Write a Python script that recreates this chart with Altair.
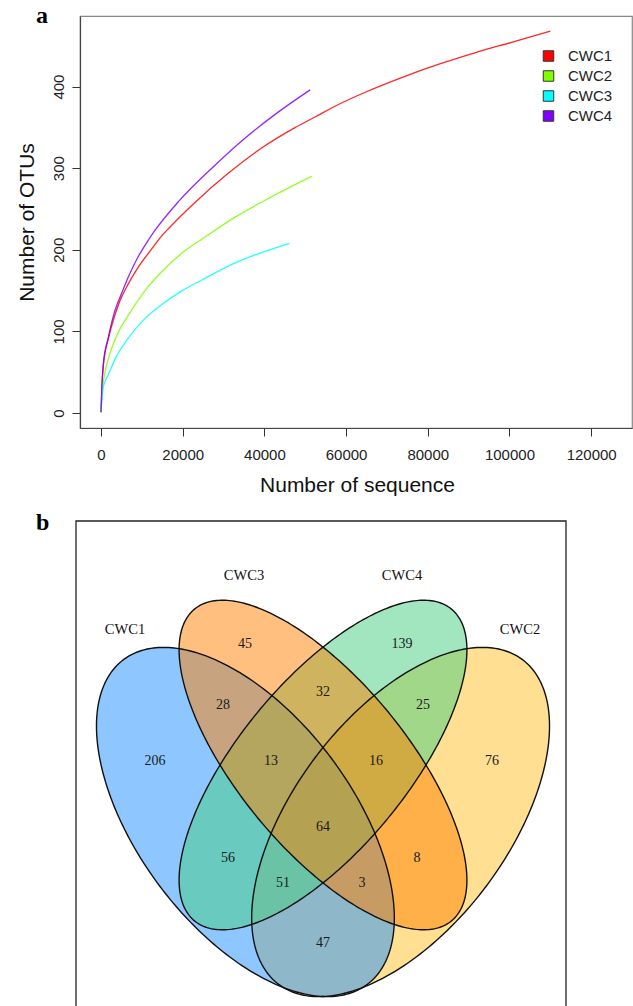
import numpy as np
import pandas as pd
import altair as alt

# ---------------- panel a : rarefaction curves ----------------
series_names = ["CWC1", "CWC2", "CWC3", "CWC4"]
series_colors = ["#FF0000", "#80FF00", "#00FFFF", "#8000FF"]

seq_cwc1 = [0, 200, 570, 1800, 3400, 5000, 5900, 9150, 12400, 14500, 16900, 23000, 31200,
            39400, 47600, 52500, 56900, 65100, 74100, 83100, 91300, 100300, 110000]
otu_cwc1 = [1, 30, 58, 91, 120, 142, 151, 179, 201, 215, 228, 258, 294,
            325, 350, 363, 375, 394, 412, 428, 441, 454, 468]

seq_cwc2 = [0, 200, 980, 2000, 3430, 6700, 10780, 14870, 20590, 24680, 32840, 41000, 51600]
otu_cwc2 = [1, 22, 50, 70, 90, 120, 150, 173, 199, 213, 240, 263, 290]

seq_cwc3 = [0, 200, 570, 1800, 3430, 6700, 10600, 14870, 19900, 24680, 32430, 46150]
otu_cwc3 = [1, 14, 32, 47, 66, 92, 115, 133, 150, 163, 183, 208]

seq_cwc4 = [0, 170, 570, 1800, 3430, 5070, 6700, 9150, 11600, 13240, 18950, 27130, 35300, 43450, 51200]
otu_cwc4 = [1, 28, 61, 93, 126, 147, 167, 192, 212, 224, 259, 300, 337, 369, 396]

x_ticks = [0, 20000, 40000, 60000, 80000, 100000, 120000]
y_ticks = [0, 100, 200, 300, 400]

# ---------------- panel b : Venn diagram ----------------
venn_draw_order = ["CWC2", "CWC1", "CWC4", "CWC3"]
venn_fill = {"CWC1": "#1E90FF", "CWC2": "#FFC125", "CWC3": "#FF7F00", "CWC4": "#43CD80"}
region_names = ["CWC3", "CWC4", "CWC3&CWC4", "CWC1&CWC3", "CWC4&CWC2", "CWC1",
                "CWC1&CWC3&CWC4", "CWC3&CWC4&CWC2", "CWC2", "all", "CWC1&CWC4",
                "CWC3&CWC2", "CWC1&CWC4&CWC2", "CWC1&CWC3&CWC2", "CWC1&CWC2"]
region_counts = [45, 139, 32, 28, 25, 206, 13, 16, 76, 64, 56, 8, 51, 3, 47]

# layout (reference pixel frame of the figure)
region_pos_x = [245, 402, 323, 223, 423, 155, 271, 376, 492, 323, 228, 417, 283, 362, 323]
region_pos_y = [644, 644, 692, 705, 705, 761, 761, 761, 761, 827, 858, 858, 883, 883, 943]
set_label_pos = {"CWC3": (244, 576), "CWC4": (402, 576), "CWC1": (125, 630), "CWC2": (520, 630)}
# ellipse shapes: centre x, centre y, semi-major, semi-minor, tilt (deg, screen)
ellipse_geom = {
    "CWC1": (245.4, 822.0, 203, 107, 53.1),
    "CWC2": (400.6, 822.0, 203, 107, 126.9),
    "CWC3": (323.0, 765.0, 202, 84, 50.5),
    "CWC4": (323.0, 765.0, 202, 84, 129.5),
}

W, H = 552, 412
OX, OY = 80, 16
SERIF = "Liberation Serif"
SANS = "Liberation Sans"

rows = []
for name, xs, ys in zip(series_names, [seq_cwc1, seq_cwc2, seq_cwc3, seq_cwc4],
                        [otu_cwc1, otu_cwc2, otu_cwc3, otu_cwc4]):
    for xv, yv in zip(xs, ys):
        rows.append({"series": name, "seq": xv, "otus": yv})
curves = pd.DataFrame(rows)

color_scale = alt.Scale(domain=series_names, range=series_colors)

lines = alt.Chart(curves).mark_line(strokeWidth=1.3, opacity=0.85, interpolate="monotone").encode(
    x=alt.X("seq:Q", scale=alt.Scale(domain=[-5150, 130000], nice=False, zero=False),
            axis=alt.Axis(values=x_ticks, format="d", title="Number of sequence", grid=False,
                          labelFont=SANS, labelFontSize=15, labelColor="#222", labelPadding=11,
                          labelBaseline="top", labelFlush=False, labelOverlap=False,
                          tickSize=8, tickColor="#333", domainColor="#444", domainWidth=1.2,
                          titleFont=SANS, titleFontSize=21, titleFontWeight="normal", titleColor="#111",
                          titleX=277, titleY=63, titleBaseline="alphabetic", titleAlign="center")),
    y=alt.Y("otus:Q", scale=alt.Scale(domain=[-18.4, 486.5], nice=False, zero=False),
            axis=alt.Axis(values=y_ticks, title="Number of OTUs", grid=False,
                          labelFont=SANS, labelFontSize=15, labelColor="#222", labelPadding=9,
                          labelAngle=270, labelAlign="center", labelBaseline="alphabetic",
                          labelFlush=False, labelOverlap=False,
                          tickSize=8, tickColor="#333", domainColor="#444", domainWidth=1.2,
                          titleFont=SANS, titleFontSize=21, titleFontWeight="normal", titleColor="#111",
                          titleAngle=270, titleX=-47, titleY=206, titleBaseline="alphabetic",
                          titleAlign="center")),
    color=alt.Color("series:N", scale=color_scale, legend=None),
)

leg_df = pd.DataFrame({"series": series_names})
leg_y = alt.Y("series:N", scale=alt.Scale(domain=series_names, range=[40, 100], padding=0), axis=None)
leg_sq = alt.Chart(leg_df).mark_square(size=110, filled=True, opacity=1, stroke="#333", strokeWidth=1).encode(
    x=alt.value(468.5), y=leg_y, fill=alt.Fill("series:N", scale=color_scale, legend=None))
leg_tx = alt.Chart(leg_df).mark_text(align="left", baseline="middle", font=SANS, fontSize=15,
                                     color="#222").encode(x=alt.value(488), y=leg_y, text="series:N")

label_a = alt.Chart(pd.DataFrame({"t": ["a"]})).mark_text(
    align="left", baseline="alphabetic", font=SERIF, fontWeight="bold", fontSize=24, color="#000"
).encode(x=alt.value(-44), y=alt.value(7), text="t:N")

# ---------------- Venn layers ----------------
vx_scale = alt.Scale(domain=[0, 633], range=[-OX, 633 - OX], nice=False, zero=False)
vy_scale = alt.Scale(domain=[0, 1006], range=[-OY, 1006 - OY], nice=False, zero=False)


def ellipse_fill(cx, cy, a, b, ang, n=240):
    c, s = np.cos(np.radians(ang)), np.sin(np.radians(ang))
    half_w = np.sqrt((a * c) ** 2 + (b * s) ** 2)
    k = np.linspace(0, np.pi, n)
    xs = cx - half_w * np.cos(k)
    dx = xs - cx
    P = s ** 2 / a ** 2 + c ** 2 / b ** 2
    Q = 2 * dx * c * s * (1 / a ** 2 - 1 / b ** 2)
    R = dx ** 2 * (c ** 2 / a ** 2 + s ** 2 / b ** 2) - 1
    disc = np.sqrt(np.clip(Q ** 2 - 4 * P * R, 0, None))
    return pd.DataFrame({"px": xs, "py": cy + (-Q - disc) / (2 * P), "py2": cy + (-Q + disc) / (2 * P)})


def ellipse_outline(cx, cy, a, b, ang, n=300):
    c, s = np.cos(np.radians(ang)), np.sin(np.radians(ang))
    t = np.linspace(0, 2 * np.pi, n + 1)
    return pd.DataFrame({
        "t": np.arange(n + 1),
        "px": cx + a * np.cos(t) * c - b * np.sin(t) * s,
        "py": cy + a * np.cos(t) * s + b * np.sin(t) * c,
    })


box = alt.Chart(pd.DataFrame({"k": [0]})).mark_rect(
    fill="transparent", stroke="#222", strokeWidth=1.3
).encode(x=alt.value(76 - OX), x2=alt.value(566 - OX), y=alt.value(521 - OY), y2=alt.value(1012 - OY))

fills = []
for name in venn_draw_order:
    fills.append(alt.Chart(ellipse_fill(*ellipse_geom[name])).mark_area(
        color=venn_fill[name], opacity=0.5).encode(
        x=alt.X("px:Q", scale=vx_scale, axis=None),
        y=alt.Y("py:Q", scale=vy_scale, axis=None),
        y2="py2:Q"))

outlines = []
for name in venn_draw_order:
    outlines.append(alt.Chart(ellipse_outline(*ellipse_geom[name])).mark_line(
        color="#111", strokeWidth=1.4).encode(
        x=alt.X("px:Q", scale=vx_scale, axis=None),
        y=alt.Y("py:Q", scale=vy_scale, axis=None),
        order="t:Q"))

reg_df = pd.DataFrame({"region": region_names, "count": region_counts,
                       "px": region_pos_x, "py": region_pos_y})
reg_text = alt.Chart(reg_df).mark_text(font=SERIF, fontSize=14, color="#1a1a1a",
                                       baseline="middle", align="center").encode(
    x=alt.X("px:Q", scale=vx_scale, axis=None),
    y=alt.Y("py:Q", scale=vy_scale, axis=None),
    text="count:Q")

set_df = pd.DataFrame({"set": list(set_label_pos.keys()),
                       "px": [v[0] for v in set_label_pos.values()],
                       "py": [v[1] for v in set_label_pos.values()]})
set_text = alt.Chart(set_df).mark_text(font=SERIF, fontSize=14.5, color="#111",
                                       baseline="middle", align="center").encode(
    x=alt.X("px:Q", scale=vx_scale, axis=None),
    y=alt.Y("py:Q", scale=vy_scale, axis=None),
    text="set:N")

label_b = alt.Chart(pd.DataFrame({"t": ["b"]})).mark_text(
    align="left", baseline="alphabetic", font=SERIF, fontWeight="bold", fontSize=24, color="#000"
).encode(x=alt.value(-44), y=alt.value(514), text="t:N")

chart = alt.layer(
    box, *fills, *outlines, reg_text, set_text, label_b,
    lines, leg_sq, leg_tx, label_a
).resolve_scale(
    x="independent", y="independent"
).properties(
    width=W, height=H,
    autosize=alt.AutoSizeParams(type="none"),
    padding={"left": OX, "top": OY, "right": 633 - OX - W, "bottom": 1006 - OY - H},
    background="white",
).configure_view(stroke="#888", strokeWidth=1.2)

chart.save("out.html", embed_options={"renderer": "svg", "actions": False})
